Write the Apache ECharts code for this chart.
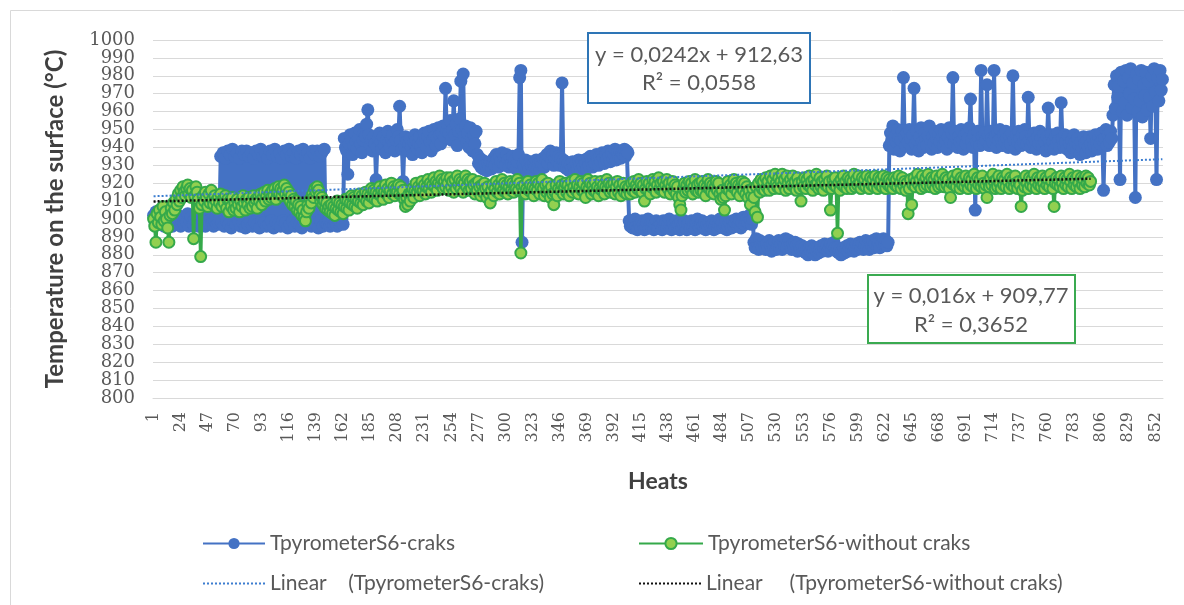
<!DOCTYPE html>
<html>
<head>
<meta charset="utf-8">
<script src="https://cdn.jsdelivr.net/npm/echarts@6/dist/echarts.min.js"></script>
<style>
html,body{margin:0;padding:0;background:#fff;}
#chart{width:1184px;height:605px;}
</style>
</head>
<body>
<div id="chart"></div>
<script>
// ---------- DATA ----------
const heatCount = 858;
const categories = [];
for (let i = 1; i <= heatCount; i++) categories.push(String(i));

const yTicks = { min: 800, max: 1000, step: 10 };

// TpyrometerS6-craks (heats 1..858), read in segments
const blueA = [902,899,904,897,901,903,898,900,905,896,
899,902,897,900,903,898,896,901,899,897,
900,902,898,896,899,901,897,900,898,903,
896,899,901,898,897,900,902,899,896,898,
901,897,899,900,896,898,902,899,897,900,
898,896,899,901,897,898,900];
const blueB = [935,898,937,896,934,899,938,897,936,895,
939,898,935,897,937,899,934,896,938,898,
936,895,938,897,935,899,937,896,934,898,
938,897,936,895,939,899,935,898,937,896,
934,897,938,899,936,895,939,898,935,897,
937,896,934,899,938,898,936,895,939,897,
935,899,937,896,934,898,938,897,936,895,
939,898,935,897,937,899,934,896,938,898,
936,897,938,895,935,899,937,896,939,898];
const blueC = [898,897,899,896,898,900,897,899,898,896,899,897,898,900,897];
const blueD = [945,940,938,925,942,947,944,936,941,948,
943,939,945,950,942,937,944,948,946,953,
961,947,941,944,938,946,942,922,940,945,
948,943,939,946,941,937,944,949,943,940,
945,947,942,938,944,950,946,963,944,939,
921,941,946,943,938,942,945,940,936,943,
947,944,939,942,946,941,937,943,948,945,
940,946,949,943,938,944,950,946,941,945,
951,947,942,948,952,946,973,949];
const blueE = [952,948,955,944,950,966,947,953,941,949,
956,977,950,981,946,952,943,948,940,951,
945,938,947,942,949];
const blueF = [936,931,934,929,933,928,932,930,927,931,
929,932,928,931,934,930,936,933,929,935,
932,937,931,934,930,936,933,929,934,931,
935,930,933,928,932,936,979,983,887,931,
929,933,927,931,928,932,930,926,931,929,
933,928,931,927,932,930,934,929,933,936,
931,935,938,933,936,930,934,937,932,935,
930,934,976,933,929,932,928,931,927,930,
928,932,929,926,931,928,933,930,927,932,
929,933,931,928,934,930,935,932,929,934,
931,936,933,930,935,932,937,934,931,936,
933,938,935,932,937,934,936,939,933,937,
935,938,934,937,936,939,935,938,937];
const blueG = [899,896,898,895,897,900,896,894,898,897,
895,899,897,894,896,898,900,895,897,896,
898,894,897,899,895,896,898,897,894,899,
896,898,895,897,900,896,894,898,897,895,
899,896,897,894,898,895,897,899,896,894,
897,898,895,899,896,897,894,898,900,896,
895,897,899,896,898,894,897,895,898,896,
899,897,894,896,898,895,897,900,896,898,
895,897,899,894,896,898,897,895,899,896,
898,900,896,897,899,895,898,901,897,899,
900,898,902,899,897,900];
const blueH = [887,884,889,885,883,888,886,884,887,885,
883,886,884,888,885,882,886,884,887,883,
885,888,884,886,883,887,885,889,884,886,
888,885,883,886,884,887,885,882,886,884,
883,885,882,884,881,883,880,884,882,885,
881,883,880,882,884,881,883,885,882,884,
886,883,885,882,884,886,883,885,887,884,
882,884,881,883,880,882,884,881,883,885,
882,884,886,883,885,882,884,886,883,885,
887,884,886,883,885,888,884,886,883,887,
885,888,884,886,889,885,887,884,888,886,
889,886,888,885,887];
const blueI = [941,948,944,952,939,946,943,950,945,938,
944,949,979,946,941,948,943,950,945,939,
947,973,942,949,944,938,946,951,943,940,
948,945,941,947,952,944,939,946,942,949,
945,940,947,943,950,946,941,948,944,939,
946,951,943,948,979,942,949,945,940,946,
943,950,944,939,947,942,948,945,951,967,
944,940,947,905,943,949,945,941,983,946,
942,948,944,975,947,941,949,945,943,983,
946,940,948,944,950,945,941,947,943,949,
945,940,946,942,948,980,944,939,947,943,
949,945,941,947,943,950,946,942,968,944,
940,947,943,948,944,939,946,942,949,945,
941,947,943,938,946,962,944,940,947,943,
939,946,942,948,944,940,965,945,941,947,
943,939,946,942,937,944,940,947,943,938,
945,941,936,943,939,946,942,937,944,940,
946,942,938,945,941,947,943,939,946,942,
948,944,916,945,950,941,947,943,949,945];
const blueJ = [958,975,962,980,968,974,922,982,960,977,
965,983,958,979,970,984,962,976,967,912,
981,960,978,966,983,957,975,969,982,961,
977,968,945,980,963,984,971,922,979,966,
983,972,978];

// TpyrometerS6-without craks (heats 1..797)
const greenA = [900,896,887,903,898,905,901,897,907,899,
904,900,895,887,902,906,903,909,905,911,
908,914,910,916,912,918,915,913,917,919,
914,917,912,916,889,913,918,915,911,906,
879,908,913,910,915,912,907,914,909,916,
911,908,913,910,906,912,909,914,907,911];
const greenB = [909,913,906,911,904,910,907,912,905,909,
906,911,908,904,910,907,913,909,905,911,
908,912,906,910,907,913,909,911,906,912,
910,914,908,912,915,910,913,916,911,914,
912,916,913,917,911,915,918,914,917,913,
916,919,914,917,912,915,910,913,908,911,
907,910,905,908,904,907,902,905,901,899,
904,908,906,911,909,914,912,917,915,918,
916,913,910,912,908,910,906,909,905,907];
const greenC = [904,908,903,907,902,906,910,905,909,904,
908,903,907,911,906,910,905,909,913,908,
912,907,911,906,910,914,909,913,908,912,
915,910,914,909,913,917,912,916,911,915,
910,914,918,913,916,911,915,919,914,917,
912,916,920,914,918,913,917,915,919,914,
918,913,916,911,907,912,908,914,910,915,
917,912,916,920,915,918,913,917,921,916,
919,914,918,922,917,920,915,919,923,918,
921,916,920,924,919,922,917,921,918,923];
const greenD = [920,916,923,918,921,915,922,917,924,919,
922,917,921,915,920,924,918,922,916,921,
917,922,919,914,920,916,921,918,913,919,
915,920,917,912,918,914,909,916,919,913,
917,921,915,919,914,918,922,916,920,915,
919,914,918,921,916,920,915,919,917,922,
916,920,881,918,915,919,914,917,921,916,
919,915,918,913,917,921,916,920,914,918,
922,917,913,919,915,920,916,912,918,914,
908,915,919,913,917,921,916,919,914,918,
920,915,919,913,917,921,915,918,922,916,
919,914,918,921,916,920,915,912,918,922,
917,920,914,919,916,921,915,918,913,917,
921,916,919,914,918,922,917,920,915,919,
916,920,914,918,921,915,919,913,917,920,
915,918,914,917];
const greenE = [918,914,920,916,921,915,919,917,922,916,
920,915,919,910,917,921,916,920,914,918,
922,917,921,915,919,923,917,920,916,921,
915,919,922,917,920,914,918,921,916,919,
914,918,912,908,905,913,917,920,915,919,
916,921,917,920,914,918,922,916,919,915,
920,916,921,915,919,913,918,922,917,920,
915,919,914,918,921,916,920,914,911,916,
912,905,913,917,921,916,919,914,918,922,
917,920,915,919,913,918,921,916,920,914,
918,912,916,908,913,917];
const greenF = [912,904,918,901,920,915,922,917,921,916,
923,918,921,916,924,919,922,917,925,920,
918,923,917,921,925,919,922,916,924,920,
917,922,919,924,918,921,916,923,920,917,
910,921,918,923,917,922,919,924,918,921,
916,922,919,925,920,917,923,918,921,916,
922,919,924,918,921,905,917,922,919,923,
918,892,920,916,922,919,924,918,921,917,
923,919,922,917,921,925,918,922,919,924,
920,917,923,919,922,918,924,920,917,923,
919,922,918,924,920,917,923,919,922,918,
924,920,917,923,919,922,918,921,917,923,
919,922,918,924,920,917,923,919,921,916];
const greenG = [920,903,917,922,908,919,923,918,921,925,
919,922,917,924,920,918,923,919,925,921,
918,923,919,922,917,924,920,918,923,919,
925,921,918,923,919,922,917,912,920,924,
919,922,918,925,921,917,923,919,922,918,
924,920,917,923,919,922,918,925,921,917,
923,919,922,918,924,920,917,919,912,921,
918,923,919,925,921,917,922,918,924,920,
917,923,919,922,918,925,921,917,923,919,
922,918,924,920,917,921,919,907,916,922,
918,924,920,917,923,919,922,918,925,921,
917,923,919,922,918,924,920,917,923,919,
922,918,925,921,917,907,920,923,919,922,
918,924,920,917,923,919,922,918,925,921,
917,923,919,922,918,924,920,917,923,919,
922,918,924,920,923,919,921];

// Linear trend end points (value at first and last heat) read from the trendlines
const trendCraksEnds = [912.7, 933.4];      // heats 1 .. 858
const trendWithoutEnds = [909.8, 922.5];    // heats 1 .. 797

const seriesNames = ['TpyrometerS6-craks', 'TpyrometerS6-without craks',
  'Linear    (TpyrometerS6-craks)', 'Linear     (TpyrometerS6-without craks)'];
const eqCraks = ['y = 0,0242x + 912,63', 'R² = 0,0558'];
const eqWithout = ['y = 0,016x + 909,77', 'R² = 0,3652'];

// ---------- BUILD ----------
const blueData = [].concat(blueA, blueB, blueC, blueD, blueE, blueF, blueG, blueH, blueI, blueJ);
const greenData = [].concat(greenA, greenB, greenC, greenD, greenE, greenF, greenG);

function trendLine(ends, lastIndex) {
  const arr = new Array(heatCount).fill(null);
  arr[0] = ends[0];
  arr[lastIndex] = ends[1];
  return arr;
}
const trendCraks = trendLine(trendCraksEnds, blueData.length - 1);
const trendWithout = trendLine(trendWithoutEnds, greenData.length - 1);

const BLUE = '#4472C4';
const GREEN_LINE = '#35A94A';
const GREEN_FILL = '#92D050';
const TXT = '#595959';
const legendText = { fontFamily: 'Lato', fontSize: 21, color: TXT };

const chart = echarts.init(document.getElementById('chart'), null, { renderer: 'canvas' });
chart.setOption({
  backgroundColor: '#ffffff',
  animation: false,
  grid: { left: 153, right: 21, top: 40, bottom: 207, containLabel: false },
  xAxis: {
    type: 'category',
    data: categories,
    boundaryGap: true,
    name: 'Heats',
    nameLocation: 'middle',
    nameGap: 72,
    nameTextStyle: { fontFamily: 'Lato', fontSize: 23, fontWeight: 'bold', color: '#404040' },
    axisLine: { show: true, lineStyle: { color: '#D9D9D9', width: 1 } },
    axisTick: { show: false },
    axisLabel: { interval: 22, rotate: 90, margin: 14, fontFamily: 'DejaVu Serif', fontSize: 16, color: TXT }
  },
  yAxis: {
    type: 'value',
    min: yTicks.min, max: yTicks.max, interval: yTicks.step,
    name: 'Temperature on the surface (°C)',
    nameLocation: 'middle',
    nameRotate: 90,
    nameGap: 86,
    nameTextStyle: { fontFamily: 'Lato', fontSize: 24, fontWeight: 'bold', color: '#404040' },
    axisLine: { show: false },
    axisTick: { show: false },
    axisLabel: { margin: 18, fontFamily: 'DejaVu Serif', fontSize: 18, color: TXT, formatter: function (v) { return String(v); } },
    splitLine: { lineStyle: { color: '#D9D9D9', width: 1 } }
  },
  legend: [
    { data: [seriesNames[0]], left: 197, top: 528, itemWidth: 62, itemHeight: 14, itemGap: 6, textStyle: legendText },
    { data: [seriesNames[1]], left: 633, top: 528, itemWidth: 64, itemHeight: 14, itemGap: 6, textStyle: legendText },
    { data: [seriesNames[2]], left: 197, top: 568, itemWidth: 62, itemHeight: 14, itemGap: 6, textStyle: legendText, itemStyle: { opacity: 0 } },
    { data: [seriesNames[3]], left: 633, top: 568, itemWidth: 62, itemHeight: 14, itemGap: 6, textStyle: legendText, itemStyle: { opacity: 0 } }
  ],
  series: [
    {
      name: seriesNames[0], type: 'line', data: blueData,
      symbol: 'circle', symbolSize: 13, showAllSymbol: true, sampling: null,
      lineStyle: { color: BLUE, width: 4 },
      itemStyle: { color: BLUE, borderColor: BLUE, borderWidth: 0 },
      emphasis: { disabled: true }, z: 2
    },
    {
      name: seriesNames[1], type: 'line', data: greenData,
      symbol: 'circle', symbolSize: 11, showAllSymbol: true, sampling: null,
      lineStyle: { color: GREEN_LINE, width: 3.5 },
      itemStyle: { color: GREEN_FILL, borderColor: GREEN_LINE, borderWidth: 2 },
      emphasis: { disabled: true }, z: 3
    },
    {
      name: seriesNames[2], type: 'line', data: trendCraks, connectNulls: true,
      symbol: 'none',
      lineStyle: { color: '#3C7DD0', width: 2, type: [2, 2] },
      itemStyle: { color: '#3C7DD0' },
      emphasis: { disabled: true }, z: 4
    },
    {
      name: seriesNames[3], type: 'line', data: trendWithout, connectNulls: true,
      symbol: 'none',
      lineStyle: { color: '#111111', width: 2.5, type: [2, 2] },
      itemStyle: { color: '#111111' },
      emphasis: { disabled: true }, z: 5
    }
  ],
  graphic: [
    { type: 'rect', left: 8, top: 8, shape: { width: 1300, height: 800 }, style: { fill: 'none', stroke: '#D9D9D9', lineWidth: 1 }, silent: true, z: -10 },
    { type: 'rect', x: 588, y: 33, shape: { width: 222, height: 70 }, style: { fill: '#ffffff', stroke: '#2E75B6', lineWidth: 2 }, z: 100 },
    { type: 'text', x: 699, y: 55, style: { text: eqCraks[0], textAlign: 'center', textVerticalAlign: 'middle', font: '22px Lato', fill: TXT }, z: 101 },
    { type: 'text', x: 699, y: 83, style: { text: eqCraks[1], textAlign: 'center', textVerticalAlign: 'middle', font: '22px Lato', fill: TXT }, z: 101 },
    { type: 'rect', x: 868, y: 275, shape: { width: 207, height: 68 }, style: { fill: '#ffffff', stroke: '#3AAA50', lineWidth: 2 }, z: 100 },
    { type: 'text', x: 971, y: 296, style: { text: eqWithout[0], textAlign: 'center', textVerticalAlign: 'middle', font: '22px Lato', fill: TXT }, z: 101 },
    { type: 'text', x: 971, y: 325, style: { text: eqWithout[1], textAlign: 'center', textVerticalAlign: 'middle', font: '22px Lato', fill: TXT }, z: 101 }
  ]
});
</script>
</body>
</html>
